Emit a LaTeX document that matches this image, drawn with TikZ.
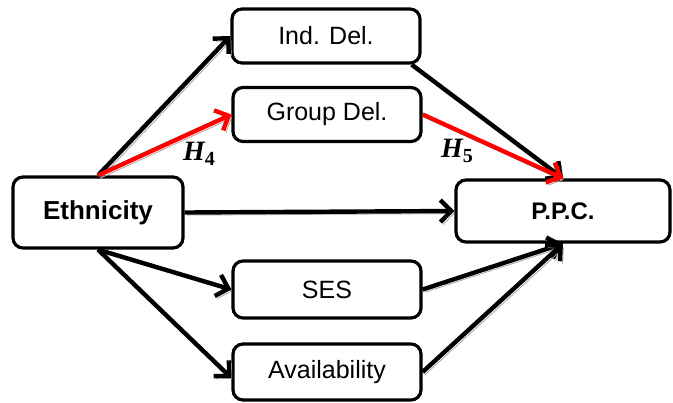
\documentclass[tikz,border=0pt]{standalone}
\usepackage{fontspec}
\setmainfont{Liberation Sans}
\newfontfamily\hyfont{Liberation Serif}
\usetikzlibrary{arrows.meta}
\begin{document}
\begin{tikzpicture}[x=0.5pt,y=-0.5pt,
  box/.style={draw=black,line width=1.6pt,rounded corners=5pt,fill=white,
    minimum width=94pt,minimum height=27pt,inner sep=0pt,font=\fontsize{12.5}{14}\selectfont},
  link/.style={line width=2.2pt,draw=black,
    -{Straight Barb[length=5.5pt,width=11pt,line width=2.2pt]},
    preaction={draw=black!35,transform canvas={shift={(1.3pt,-1.3pt)}}}},
  hot/.style={link,draw=red},
  hyp/.style={font=\hyfont\fontsize{14}{15}\selectfont\bfseries}]
\useasboundingbox (0,0) rectangle (673,402);

\node[box,minimum width=85pt,minimum height=35.5pt,font=\fontsize{13}{15}\selectfont\bfseries] (eth) at (98,212.5) {Ethnicity};
\node[box] (ind) at (326,36) {Ind. Del.};
\node[box] (grp) at (327,114.5) {Group Del.};
\node[box,minimum width=107pt,minimum height=31pt,font=\fontsize{12}{14}\selectfont\bfseries] (ppc) at (563,211) {P.P.C.};
\node[box,minimum height=28.5pt] (ses) at (327,289.5) {SES};
\node[box,minimum height=28pt] (ava) at (327,372) {Availability};

\draw[link] (eth.north) -- (ind.west);
\draw[hot] (eth.north) -- (grp.west);
\draw[link] (eth.east) -- (ppc.west);
\draw[link] (eth.south) -- (ses.west);
\draw[link] (eth.south) -- ([yshift=-3pt]ava.west);
\draw[link] ([xshift=-5pt]ind.south east) -- (ppc.north);
\draw[hot] (grp.east) -- (ppc.north);
\draw[link] (ses.east) -- (ppc.south);
\draw[link] (ava.east) -- (ppc.south);

\node[hyp] (h4) at (199,154) {\itshape H\raisebox{-0.35ex}{\upshape\fontsize{10}{11}\selectfont 4}};
\node[hyp] (h5) at (457,151) {\itshape H\raisebox{-0.35ex}{\upshape\fontsize{10}{11}\selectfont 5}};
\end{tikzpicture}
\end{document}
